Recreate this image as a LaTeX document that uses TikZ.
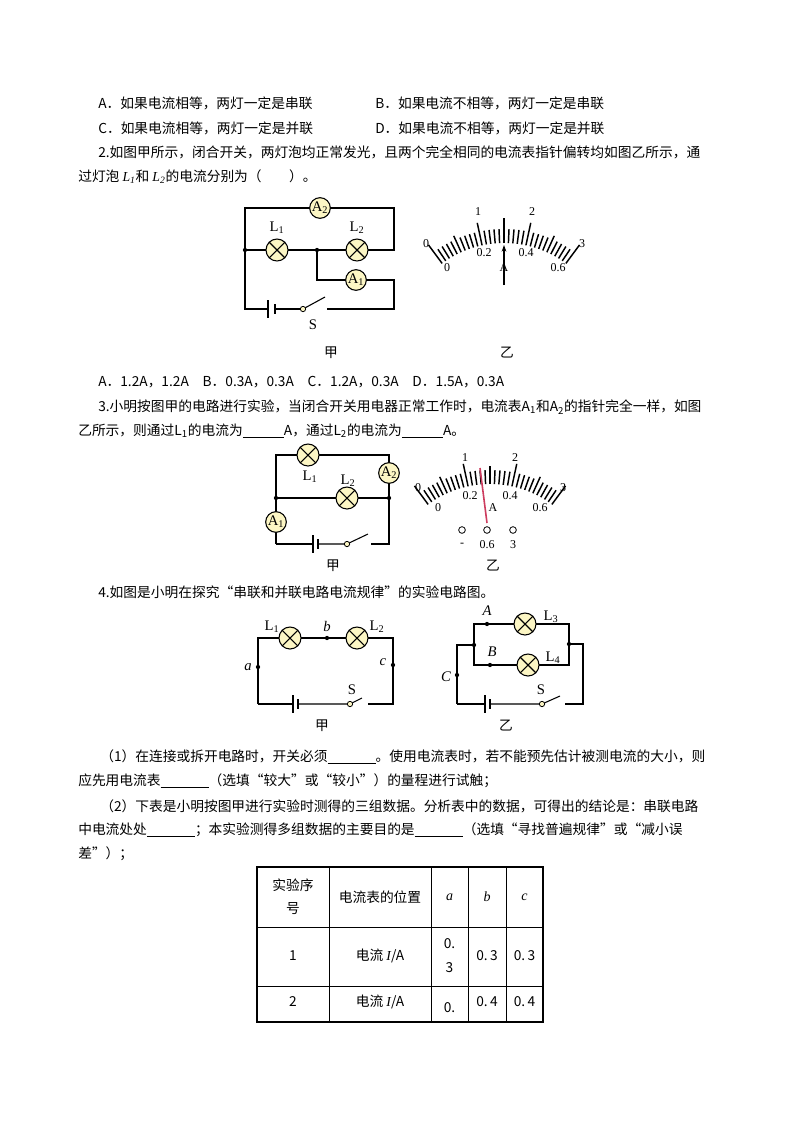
\documentclass[tikz,border=0pt]{standalone}
\usepackage{fontspec}
\usetikzlibrary{arrows.meta}
\setmainfont{Noto Sans CJK SC}
\newfontfamily\ser{Liberation Serif}
\definecolor{lampY}{RGB}{252,246,196}
\definecolor{needleR}{RGB}{205,60,95}
\tikzset{
  txt/.style={anchor=west,inner sep=0,font=\fontsize{10.3pt}{12pt}\selectfont},
  ctr/.style={inner sep=0,font=\fontsize{10.3pt}{12pt}\selectfont},
  lbl/.style={inner sep=0,font=\ser\fontsize{11pt}{12pt}\selectfont},
  sml/.style={inner sep=0,font=\ser\fontsize{9pt}{10pt}\selectfont},
  wire/.style={line width=0.8pt},
  lamp/.style={circle,draw,line width=0.8pt,fill=lampY,minimum size=16.5pt,inner sep=0,
    path picture={\draw[line width=0.8pt] ([shift={(45:8.25pt)}]path picture bounding box.center) -- ([shift={(225:8.25pt)}]path picture bounding box.center)
      ([shift={(135:8.25pt)}]path picture bounding box.center) -- ([shift={(-45:8.25pt)}]path picture bounding box.center);}},
  meterA/.style={circle,draw,line width=0.8pt,fill=lampY,minimum size=15.5pt,inner sep=0,font=\ser\fontsize{11pt}{11pt}\selectfont},
  jdot/.style={circle,fill=black,inner sep=0,minimum size=3.2pt},
  pivot/.style={circle,draw,fill=lampY,inner sep=0,minimum size=4pt,line width=0.6pt},
  term/.style={circle,draw,inner sep=0,minimum size=5pt,line width=0.6pt},
}
\newcommand{\myscale}[2]{%
  \foreach \i in {0,...,30}{
    \pgfmathsetmacro{\ang}{126.5-\i*73/30}
    \pgfmathsetmacro{\ro}{ifthenelse(mod(\i,10)==0,127,ifthenelse(mod(\i,5)==0,122,118))}
    \draw[line width=1.1pt] ({#1+104*cos(\ang)},{#2-104*sin(\ang)}) -- ({#1+\ro*cos(\ang)},{#2-\ro*sin(\ang)});
  }}
\newcommand{\mybatt}[3]{%
  \draw[line width=0.8pt] (#1,#3-9) -- (#1,#3+9);
  \draw[line width=1.8pt] (#2,#3-5) -- (#2,#3+5);}
\begin{document}
\begin{tikzpicture}[x=0.75pt,y=-0.75pt]
\useasboundingbox (0,0) rectangle (800,1132);
\fill[white] (0,0) rectangle (800,1132);
% ---- text
\node[txt] (t1) at (98,103) {A．如果电流相等，两灯一定是串联};
\node[txt] (t2) at (375,103) {B．如果电流不相等，两灯一定是串联};
\node[txt] (t3) at (98,128) {C．如果电流相等，两灯一定是并联};
\node[txt] (t4) at (375,128) {D．如果电流不相等，两灯一定是并联};
\node[txt] (t5) at (98,152) {2.如图甲所示，闭合开关，两灯泡均正常发光，且两个完全相同的电流表指针偏转均如图乙所示，通};
\node[txt] (t6) at (78,177) {过灯泡 {\ser\itshape L\textsubscript{1}}和 {\ser\itshape L\textsubscript{2}}的电流分别为（\quad\quad）。};
\node[txt] (t7) at (98,382) {A．1.2A，1.2A\quad B．0.3A，0.3A\quad C．1.2A，0.3A\quad D．1.5A，0.3A};
\node[txt] (t8) at (98,407) {3.小明按图甲的电路进行实验，当闭合开关用电器正常工作时，电流表A\textsubscript{1}和A\textsubscript{2}的指针完全一样，如图};
\node[txt] (t9) at (78,431) {乙所示，则通过L\textsubscript{1}的电流为\underline{\hspace{3em}}A，通过L\textsubscript{2}的电流为\underline{\hspace{3em}}A。};
\node[txt] (t10) at (98,592) {4.如图是小明在探究“串联和并联电路电流规律”的实验电路图。};
\node[txt] (t11) at (100,757) {（1）在连接或拆开电路时，开关必须\underline{\hspace{3.5em}}。使用电流表时，若不能预先估计被测电流的大小，则};
\node[txt] (t12) at (78,781) {应先用电流表\underline{\hspace{3.5em}}（选填“较大”或“较小”）的量程进行试触；};
\node[txt] (t13) at (100,806) {（2）下表是小明按图甲进行实验时测得的三组数据。分析表中的数据，可得出的结论是：串联电路};
\node[txt] (t14) at (78,830) {中电流处处\underline{\hspace{3.5em}}；本实验测得多组数据的主要目的是\underline{\hspace{3.5em}}（选填“寻找普遍规律”或“减小误};
\node[txt] (t15) at (78,854) {差”）；};
% ---- circuit 1
\draw[wire] (245,250) -- (245,208) -- (394,208) -- (394,250) -- (245,250);
\draw[wire] (317,250) -- (317,280) -- (394,280) -- (394,309) -- (327,309);
\draw[wire] (245,250) -- (245,309) -- (268,309);
\draw[wire] (275,309) -- (303,309);
\draw[wire] (303,309) -- (325,297);
\mybatt{268}{275}{309}
\node[pivot] (s1) at (303,309) {};
\node[meterA] (A2a) at (320,208) {A\textsubscript{2}};
\node[meterA] (A1a) at (356,280) {A\textsubscript{1}};
\node[lamp] (L1a) at (277,250) {};
\node[lamp] (L2a) at (357,250) {};
\node[jdot] (j1) at (245,250) {};
\node[jdot] (j2) at (317,250) {};
\node[lbl] at (277,228) {L\textsubscript{1}};
\node[lbl] at (357,228) {L\textsubscript{2}};
\node[lbl] at (313,325) {S};
\node[ctr] at (331,353) {甲};
\node[ctr] at (507,353) {乙};
% ---- meter 1
\myscale{504}{347}
\draw[line width=1.1pt] (504,218) -- (504,243);
\draw[line width=0.8pt,-{Stealth[length=5pt,width=3.5pt]}] (504,285) -- (504,245);
\node[sml] at (426,244) {0};
\node[sml] at (478,212) {1};
\node[sml] at (532,212) {2};
\node[sml] at (582,244) {3};
\node[sml] at (447,268) {0};
\node[sml] at (484,253) {0.2};
\node[sml] at (526,253) {0.4};
\node[sml] at (558,268) {0.6};
\node[sml] at (504,268) {A};
% ---- circuit 2
\draw[wire] (276,544) -- (276,455) -- (389,455) -- (389,544) -- (371,544);
\draw[wire] (276,498) -- (389,498);
\draw[wire] (276,544) -- (313,544);
\draw[wire] (318,544) -- (347,544) -- (368,534);
\mybatt{313}{318}{544}
\node[pivot] at (347,544) {};
\node[lamp] (L1b) at (308,455) {};
\node[lamp] (L2b) at (347,498) {};
\node[meterA] (A2b) at (389,473) {A\textsubscript{2}};
\node[meterA] (A1b) at (276,522) {A\textsubscript{1}};
\node[jdot] at (276,498) {};
\node[jdot] at (389,498) {};
\node[lbl] at (310,477) {L\textsubscript{1}};
\node[lbl] at (348,481) {L\textsubscript{2}};
\node[ctr] at (333,566) {甲};
\node[ctr] at (493,566) {乙};
% ---- meter 2
\begin{scope}[yshift=-241*0.75pt]
\myscale{490}{347}
\end{scope}
\draw[line width=1.2pt,needleR] (487,523) -- (480,468);
\node[sml] at (418,488) {0};
\node[sml] at (465,458) {1};
\node[sml] at (515,458) {2};
\node[sml] at (563,488) {3};
\node[sml] at (438,508) {0};
\node[sml] at (470,496) {0.2};
\node[sml] at (510,496) {0.4};
\node[sml] at (540,508) {0.6};
\node[sml] at (493,508) {A};
\node[term] at (462,530) {};
\node[term] at (487,530) {};
\node[term] at (513,530) {};
\node[sml] at (462,545) {-};
\node[sml] at (487,545) {0.6};
\node[sml] at (513,545) {3};
% ---- circuit 3 jia
\draw[wire] (258,704) -- (258,638) -- (393,638) -- (393,704) -- (368,704);
\draw[wire] (258,704) -- (293,704);
\draw[wire] (298,704) -- (350,704) -- (362,698);
\mybatt{293}{298}{704}
\node[pivot] at (350,704) {};
\node[lamp] at (290,638) {};
\node[lamp] at (357,638) {};
\node[jdot] at (327,638) {};
\node[jdot] at (258,667) {};
\node[jdot] at (393,665) {};
\node[lbl] at (272,627) {L\textsubscript{1}};
\node[lbl] at (377,627) {L\textsubscript{2}};
\node[lbl,font=\ser\itshape\fontsize{11pt}{12pt}\selectfont] at (327,626) {b};
\node[lbl,font=\ser\itshape\fontsize{11pt}{12pt}\selectfont] at (248,667) {a};
\node[lbl,font=\ser\itshape\fontsize{11pt}{12pt}\selectfont] at (383,662) {c};
\node[lbl] at (352,690) {S};
\node[ctr] at (322,726) {甲};
% ---- circuit 3 yi
\draw[wire] (474,645) -- (474,624) -- (569,624) -- (569,665) -- (474,665) -- (474,645);
\draw[wire] (457,704) -- (457,645) -- (474,645);
\draw[wire] (569,644) -- (583,644) -- (583,704) -- (565,704);
\draw[wire] (457,704) -- (485,704);
\draw[wire] (490,704) -- (542,704) -- (560,696);
\mybatt{485}{490}{704}
\node[pivot] at (542,704) {};
\node[lamp] at (525,624) {};
\node[lamp] at (528,665) {};
\node[jdot] at (474,645) {};
\node[jdot] at (569,644) {};
\node[jdot] at (487,624) {};
\node[jdot] at (490,665) {};
\node[jdot] at (457,675) {};
\node[lbl] at (551,617) {L\textsubscript{3}};
\node[lbl] at (553,658) {L\textsubscript{4}};
\node[lbl,font=\ser\itshape\fontsize{11pt}{12pt}\selectfont] at (487,611) {A};
\node[lbl,font=\ser\itshape\fontsize{11pt}{12pt}\selectfont] at (492,652) {B};
\node[lbl,font=\ser\itshape\fontsize{11pt}{12pt}\selectfont] at (446,677) {C};
\node[lbl] at (541,690) {S};
\node[ctr] at (506,726) {乙};
% ---- table
\draw[line width=0.8pt] (257,867) rectangle (543,1022);
\foreach \yy in {927,986} \draw[line width=0.6pt] (257,\yy) -- (543,\yy);
\foreach \xx in {329,431,468,506} \draw[line width=0.6pt] (\xx,867) -- (\xx,1022);
\node[ctr,align=center,font=\fontsize{10.3pt}{17pt}\selectfont] at (293,897) {实验序\\号};
\node[ctr] at (380,897) {电流表的位置};
\node[lbl,font=\ser\itshape\fontsize{10.5pt}{12pt}\selectfont] at (449.5,897) {a};
\node[lbl,font=\ser\itshape\fontsize{10.5pt}{12pt}\selectfont] at (487,897) {b};
\node[lbl,font=\ser\itshape\fontsize{10.5pt}{12pt}\selectfont] at (524.5,897) {c};
\node[ctr] at (293,956) {1};
\node[ctr] at (380,956) {电流 {\ser\itshape I}/A};
\node[ctr] at (449.5,944) {0.};
\node[ctr] at (449.5,968) {3};
\node[ctr] at (487,956) {0.\,3};
\node[ctr] at (524.5,956) {0.\,3};
\node[ctr] at (293,1002) {2};
\node[ctr] at (380,1002) {电流 {\ser\itshape I}/A};
\node[ctr] at (449.5,1008) {0.};
\node[ctr] at (487,1002) {0.\,4};
\node[ctr] at (524.5,1002) {0.\,4};
\end{tikzpicture}
\end{document}
